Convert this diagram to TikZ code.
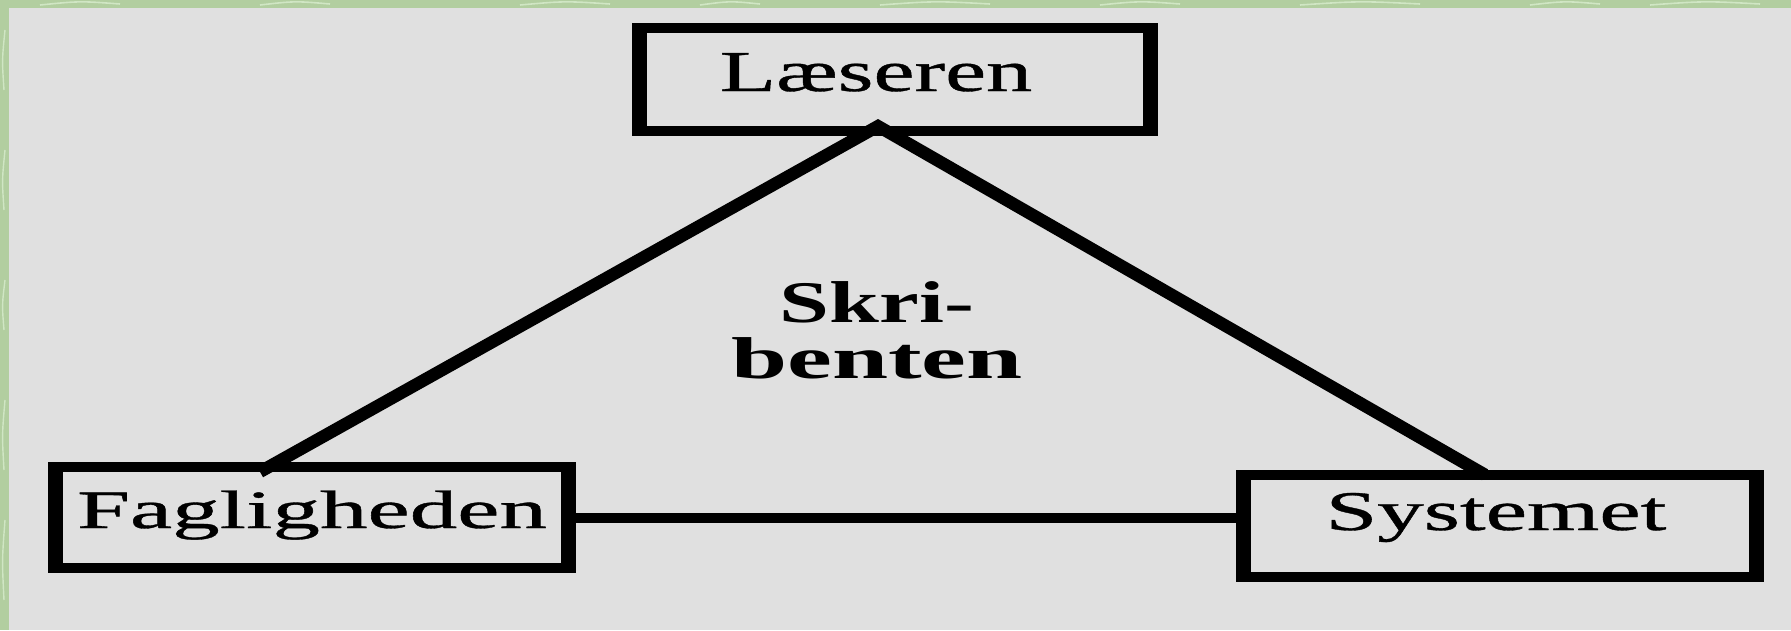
\documentclass[tikz,border=0pt]{standalone}
\usepackage{fontspec}
\setmainfont{Liberation Serif}
\newfontfamily\heavyserif[FakeBold=0.6]{Liberation Serif}
\usepackage{graphicx}
\definecolor{panel}{RGB}{224,224,224}
\definecolor{sage}{RGB}{178,206,160}
\definecolor{sagelight}{RGB}{208,230,196}
\begin{document}
\begin{tikzpicture}[x=1pt,y=-1pt,
  boxst/.style={rectangle, fill=black, inner sep=0pt, minimum width=528pt},
  txt/.style={inner sep=0pt, anchor=base, text=black},
  diag/.style={line width=12.5pt, line join=miter, line cap=butt, draw=black},
  hline/.style={line width=10pt, line cap=butt, draw=black}]
\useasboundingbox (0,0) rectangle (1791,630);
\fill[panel] (0,0) rectangle (1791,630);
% green textured border (left and top)
\fill[sage] (0,0) rectangle (1791,8);
\fill[sage] (0,0) rectangle (9,630);
\foreach \xa/\xb in {40/120,260/330,520/610,700/760,880/990,1100/1180,1300/1420,1530/1600,1650/1760}
  \draw[sagelight, line width=1.6pt] (\xa,5) .. controls ({(\xa+\xb)/2},1) .. (\xb,4);
\foreach \ya/\yb in {30/90,150/210,280/330,400/470,520/600}
  \draw[sagelight, line width=1.4pt] (5,\ya) .. controls (2,{(\ya+\yb)/2}) .. (4,\yb);
% boxes
\node[boxst, minimum width=526pt, minimum height=113pt] (L) at (895,79.5) {};
\node[boxst, minimum width=528pt, minimum height=111pt] (F) at (312,517.5) {};
\node[boxst, minimum width=528pt, minimum height=112pt] (S) at (1500,526) {};
\foreach \n in {L,F,S}
  \fill[panel] ([xshift=15pt,yshift=-10pt]\n.north west) rectangle ([xshift=-15pt,yshift=10pt]\n.south east);
% connectors
\coordinate (La) at ([xshift=-17pt,yshift=10pt]L.south);
\coordinate (Fa) at ([xshift=-52pt,yshift=-10pt]F.north);
\coordinate (Sa) at ([xshift=-15pt,yshift=-5pt]S.north);
\draw[diag] (Fa) -- (La) -- (Sa);
\draw[hline] (F.east) -- (F.east -| S.west);
% texts
\node[txt] (tL) at (876,91) {\heavyserif\fontsize{58pt}{58pt}\selectfont\scalebox{1.59}[1]{Læseren}};
\node[txt] (tF) at (312,528) {\heavyserif\fontsize{54pt}{54pt}\selectfont\scalebox{1.76}[1]{Fagligheden}};
\node[txt] (tS) at (1496,530) {\heavyserif\fontsize{56pt}{56pt}\selectfont\scalebox{1.66}[1]{Systemet}};
\node[txt] (sk1) at (877,322) {\fontsize{59pt}{59pt}\selectfont\bfseries\scalebox{1.52}[1]{Skri-}};
\node[txt] (sk2) at (877,378) {\fontsize{59pt}{59pt}\selectfont\bfseries\scalebox{1.71}[1]{benten}};
\end{tikzpicture}
\end{document}
